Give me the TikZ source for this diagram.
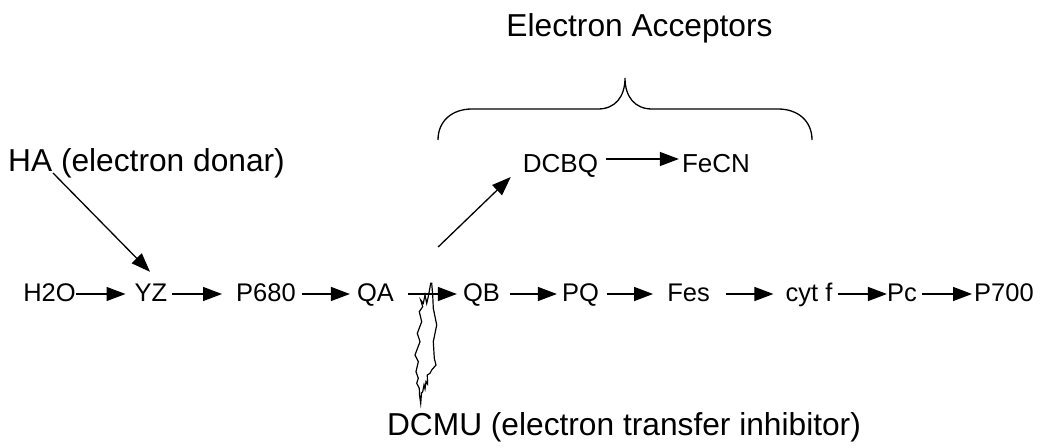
\documentclass[tikz,border=0pt]{standalone}
\usepackage{fontspec}
\setmainfont{Liberation Sans}
\usetikzlibrary{arrows.meta,calc}
\tikzset{
  rowtext/.style={font=\fontsize{25.5pt}{30pt}\selectfont, inner sep=0pt, anchor=base, text height=16pt, text depth=0pt},
  acctext/.style={font=\fontsize{26pt}{30pt}\selectfont, inner sep=0pt, anchor=base, text height=28pt, text depth=0pt},
  labeltext/.style={font=\fontsize{31.7pt}{36pt}\selectfont, inner sep=0pt, anchor=base},
  arr/.style={line width=1.3pt, -{Triangle[length=19pt,width=14pt]}},
  plain/.style={line width=1.3pt},
}
\newcommand\rowarr[4]{\draw[arr] ([xshift=#3pt]#1.east) -- ([xshift=-#4pt]#2.west);}
\begin{document}
\begin{tikzpicture}[x=1pt,y=1pt]
\useasboundingbox (0,0) rectangle (1040,447);
% main row
\node[rowtext] (h2o)  at (49.5,145) {H2O};
\node[rowtext] (yz)   at (151,145) {YZ};
\node[rowtext] (p680) at (266,145) {P680};
\node[rowtext] (qa)   at (375.5,145) {QA};
\node[rowtext] (qb)   at (481.5,145) {QB};
\node[rowtext] (pq)   at (580.5,145) {PQ};
\node[rowtext] (fes)  at (688.5,145) {Fes};
\node[rowtext] (cytf) at (809,145) {cyt f};
\node[rowtext] (pc)   at (902,145) {Pc};
\node[rowtext] (p700) at (1004,145) {P700};
\rowarr{h2o}{yz}{0}{9}
\rowarr{yz}{p680}{5}{14}
\rowarr{p680}{qa}{6}{7}
\rowarr{qa}{qb}{14}{6}
\rowarr{qb}{pq}{10}{5}
\rowarr{pq}{fes}{8}{14}
\rowarr{fes}{cytf}{16}{12}
\rowarr{cytf}{pc}{5}{0}
\rowarr{pc}{p700}{5}{2}
% labels
\node[labeltext] (acc)  at (639.5,410) {Electron Acceptors};
\node[labeltext] (ha)   at (146.5,275) {HA (electron donar)};
\node[labeltext] (dcmu) at (624,12) {DCMU (electron transfer inhibitor)};
% acceptors
\node[acctext] (dcbq) at (560.5,274) {DCBQ};
\node[acctext] (fecn) at (716,274) {FeCN};
\draw[arr] ([xshift=8pt]dcbq.east) -- ([xshift=-3pt]fecn.west);
% donor arrow
\draw[arr] ([xshift=45pt,yshift=-1pt]ha.base west) -- ([xshift=-1pt,yshift=14pt]yz.north);
% branch to DCBQ
\draw[arr] ([xshift=44pt,yshift=47pt]qa.east) -- ([xshift=-12pt,yshift=-4pt]dcbq.base west);
% brace
\draw[plain] (438,307) .. controls (438,326) and (452,338) .. (472,338) -- (598,338)
  .. controls (615,338) and (625,350) .. (625,369)
  .. controls (625,350) and (635,338) .. (652,338) -- (778,338)
  .. controls (798,338) and (812,326) .. (812,307);
% inhibitor zigzag
\draw[line width=1.2pt, line join=miter] (430.7,163.7) -- (428.3,150.3) -- (426.7,143.7) -- (425,152)
  -- (423.3,143.7) -- (420.7,147) -- (422.7,140.3) -- (419.3,135.3) -- (421.7,125.3)
  -- (417.3,113.7) -- (420,105.3) -- (415,92) -- (418.3,85.3) -- (416,75.3)
  -- (418.3,68.7) -- (416.7,63.7) -- (419.3,58.7) -- (419.5,52) -- (420.7,43.7)
  -- (421.5,54) -- (422.7,55.3) -- (424,62) -- (425,58) -- (426,65.3) -- (427.5,63)
  -- (427.3,72) -- (430,73.7) -- (431.7,77) -- (436,82) -- (434.3,88.7)
  -- (433.3,105.3) -- (436.7,122) -- (433.3,138.7) -- (432.7,152) -- (431.7,163.7) -- cycle;
\end{tikzpicture}
\end{document}
